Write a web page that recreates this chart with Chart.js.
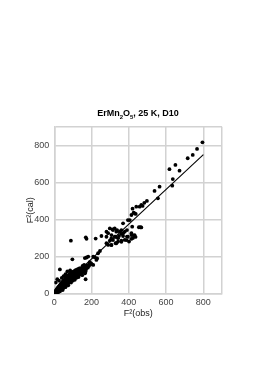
<!DOCTYPE html>
<html>
<head>
<meta charset="utf-8">
<script src="https://cdn.jsdelivr.net/npm/chart.js@4.4.0/dist/chart.umd.min.js"></script>
<style>
  html, body { margin: 0; padding: 0; background: #fff; }
  #wrap { position: relative; width: 273px; height: 386px; }
  #title { position: absolute; left: 0; width: 276px; top: 108px; text-align: center;
           font: bold 9px "Liberation Sans", Arial, sans-serif; color: #000; line-height: 11px; }
  #title sub { font-size: 6px; vertical-align: -3px; line-height: 0; }
  canvas { position: absolute; left: 0; top: 0; }
</style>
</head>
<body>
<div id="wrap">
  <canvas id="c" width="273" height="386"></canvas>
  <div id="title">ErMn<sub>2</sub>O<sub>5</sub>, 25 K, D10</div>
</div>
<script>
const obsValues = [
  2,3,4,5,6,7,8,9,10,11,12,13,14,15,16,17,18,19,20,21,22,23,24,25,26,27,28,29,30,31,32,33,34,35,36,37,38,39,40,41,42,43,44,45,46,47,48,49,50,
  52,53,54,55,56,57,58,59,60,61,62,63,64,65,66,67,68,69,70,71,72,73,74,75,76,77,78,79,80,81,82,83,84,85,86,87,88,89,90,
  92,93,94,95,97,98,99,100,102,103,104,105,107,108,110,112,113,115,116,118,120,122,124,126,128,130,132,134,136,138,140,142,145,148,150,155,160,165,170,
  10,20,30,45,60,75,90,110,130,150,165,
  5,9,14,19,24,29,34,39,44,51,57,63,68,73,79,84,91,96,101,106,111,117,121,127,133,137,143,147,153,158,163,168,174,178,183,188,
  15,27,38,48,58,66,77,88,99,109,119,129,139,
  30,16,8,25,50,40,60,70,85,97,89,169,173,222,
  164,173,182,209,218,235,209,200,187,175,190,168,180,195,152,160,230,245,226,
  312,324,337,351,360,369,347,329,306,298,280,289,306,329,342,360,378,390,401,378,390,280,253,298,315,333,360,369,307,324,342,315,307,333,360,387,395,414,280,289,
  454,462,467,418,427,422,436,413,431,414,
  395,405,369,414,426,437,431,420,440,458,467,474,483,497,
  556,538,565,633,636,618,650,672,716,743,766,795
];
const calValues = [
  3,8,1,12,5,18,4,10,14,2,20,9,25,12,6,30,15,22,10,35,18,28,14,40,22,32,19,45,25,36,20,50,30,42,24,55,33,47,28,60,38,52,32,65,40,55,36,70,44,
  58,40,75,48,62,45,80,52,66,48,85,56,70,52,90,60,74,55,95,63,78,58,100,66,82,62,88,70,86,66,104,74,90,70,108,78,94,74,110,
  82,98,78,115,86,102,82,118,90,106,86,120,94,110,90,125,98,114,95,128,104,118,100,132,110,122,106,136,115,126,110,138,120,130,115,140,125,145,130,
  0,5,12,20,35,45,60,75,90,100,110,
  7,4,16,12,27,20,36,26,44,38,52,46,64,54,72,62,80,74,92,82,99,90,112,100,120,108,129,118,132,126,140,120,150,142,154,160,
  22,16,40,30,52,58,64,80,70,96,86,112,104,
  131,78,60,70,95,85,105,120,125,185,286,304,296,297,
  192,195,200,199,196,218,155,160,150,150,170,78,140,165,150,155,190,230,182,
  347,352,343,334,322,311,311,307,298,286,272,263,263,272,281,286,290,308,281,334,343,334,311,352,343,334,343,326,316,307,299,289,262,272,280,289,307,326,307,326,
  358,358,357,361,313,300,306,295,316,316,
  397,397,379,424,437,430,433,458,469,469,478,473,490,500,
  514,554,577,582,618,671,694,663,730,748,780,816
];
// Fitted line end points
const fitX = [0, 800];
const fitY = [0, 750];
const tickValues = [0, 200, 400, 600, 800];

const points = obsValues.map((x, i) => ({ x: x, y: calValues[i] }));
const fitLine = fitX.map((x, i) => ({ x: x, y: fitY[i] }));

const FONT = "'Liberation Sans', Arial, sans-serif";
const gridColor = '#d2d2d2';

new Chart(document.getElementById('c'), {
  type: 'scatter',
  data: {
    datasets: [
      { data: points, backgroundColor: '#000', borderColor: '#000', pointRadius: 1.9, pointBorderWidth: 0, pointHoverRadius: 1.9 },
      { type: 'line', data: fitLine, borderColor: '#000', borderWidth: 1.1, pointRadius: 0, fill: false, showLine: true }
    ]
  },
  options: {
    responsive: false,
    animation: false,
    events: [],
    layout: { padding: { left: 25.6, right: 51, top: 126.7, bottom: 67 } },
    plugins: { legend: { display: false }, tooltip: { enabled: false }, title: { display: false } },
    scales: {
      x: {
        type: 'linear', min: 0, max: 900,
        afterFit: (s) => { s.height = 25.3; },
        afterBuildTicks: (s) => { s.ticks = tickValues.concat([900]).map(v => ({ value: v })); },
        grid: { color: gridColor, lineWidth: 1.5, drawTicks: false },
        border: { color: gridColor, width: 1.5 },
        ticks: { color: '#444', padding: 3, font: { family: FONT, size: 9 },
                 callback: (v) => tickValues.includes(v) ? String(v) : '' },
        title: { display: true, text: 'F²(obs)', color: '#222', padding: 0, font: { family: FONT, size: 9 } }
      },
      y: {
        type: 'linear', min: 0, max: 900,
        afterFit: (s) => { s.width = 54.3 - 25.6; },
        afterBuildTicks: (s) => { s.ticks = tickValues.concat([900]).map(v => ({ value: v })); },
        grid: { color: gridColor, lineWidth: 1.5, drawTicks: false },
        border: { color: gridColor, width: 1.5 },
        ticks: { color: '#444', padding: 5, font: { family: FONT, size: 9 },
                 callback: (v) => tickValues.includes(v) ? String(v) : '' },
        title: { display: true, text: 'F²(cal)', color: '#222', padding: 0, font: { family: FONT, size: 9 } }
      }
    }
  }
});
</script>
</body>
</html>
